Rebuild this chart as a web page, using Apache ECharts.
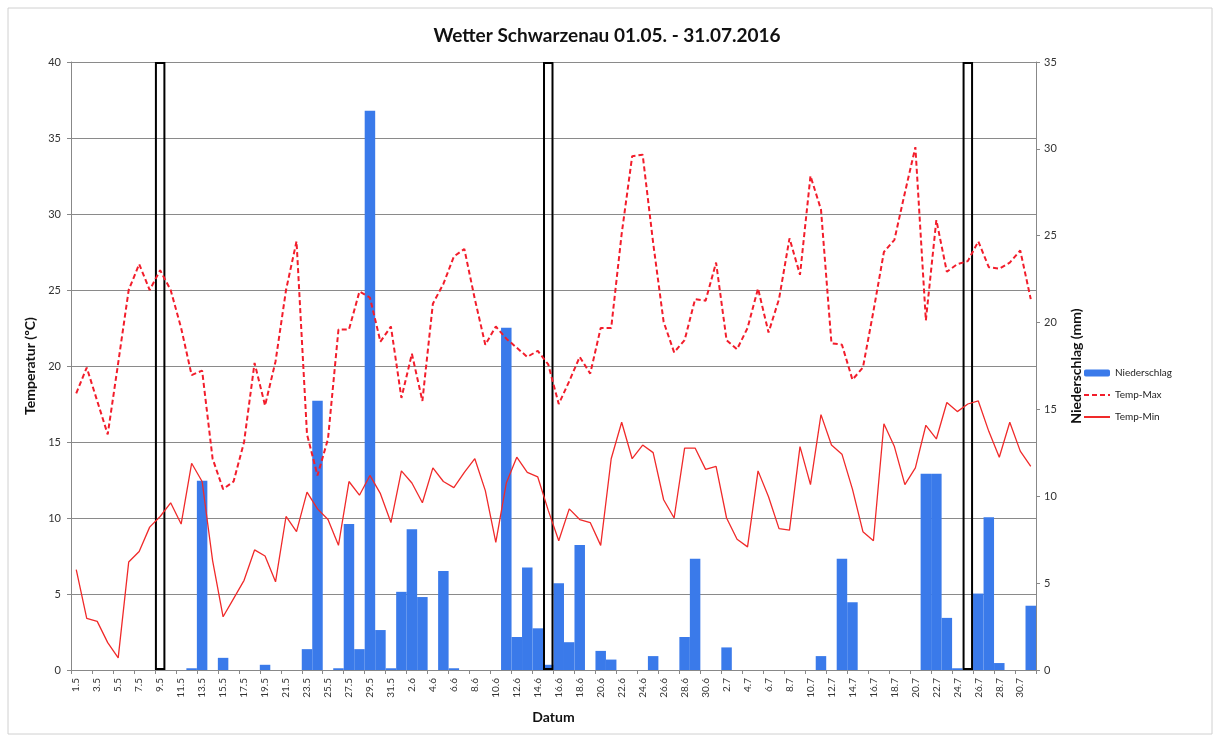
<!DOCTYPE html>
<html>
<head>
<meta charset="utf-8">
<title>Wetter Schwarzenau</title>
<script src="https://cdn.jsdelivr.net/npm/echarts@6/dist/echarts.min.js"></script>
<style>
  html, body { margin: 0; padding: 0; background: #fff; }
  #wetter { width: 1214px; height: 735px; }
</style>
</head>
<body>
<div id="wetter"></div>
<script>
var days = ['1.5','2.5','3.5','4.5','5.5','6.5','7.5','8.5','9.5','10.5','11.5','12.5','13.5','14.5','15.5','16.5','17.5','18.5','19.5','20.5','21.5','22.5','23.5','24.5','25.5','26.5','27.5','28.5','29.5','30.5','31.5',
  '1.6','2.6','3.6','4.6','5.6','6.6','7.6','8.6','9.6','10.6','11.6','12.6','13.6','14.6','15.6','16.6','17.6','18.6','19.6','20.6','21.6','22.6','23.6','24.6','25.6','26.6','27.6','28.6','29.6','30.6',
  '1.7','2.7','3.7','4.7','5.7','6.7','7.7','8.7','9.7','10.7','11.7','12.7','13.7','14.7','15.7','16.7','17.7','18.7','19.7','20.7','21.7','22.7','23.7','24.7','25.7','26.7','27.7','28.7','29.7','30.7','31.7'];

// Niederschlag in mm
var niederschlag = [0, 0, 0, 0, 0, 0, 0, 0, 0, 0, 0, 0.1, 10.9, 0, 0.7, 0, 0, 0, 0.3, 0, 0, 0, 1.2, 15.5, 0, 0.1, 8.4, 1.2, 32.2, 2.3, 0.1,
  4.5, 8.1, 4.2, 0, 5.7, 0.1, 0, 0, 0, 0, 19.7, 1.9, 5.9, 2.4, 0.3, 5.0, 1.6, 7.2, 0, 1.1, 0.6, 0, 0, 0, 0.8, 0, 0, 1.9, 6.4, 0,
  0, 1.3, 0, 0, 0, 0, 0, 0, 0, 0, 0.8, 0, 6.4, 3.9, 0, 0, 0, 0, 0, 0, 11.3, 11.3, 3.0, 0.1, 0, 4.4, 8.8, 0.4, 0, 0, 3.7];

var tempMax = [18.2, 19.9, 17.7, 15.5, 20.2, 25.0, 26.7, 25.0, 26.3, 25.0, 22.5, 19.4, 19.7, 13.9, 11.9, 12.4, 15.0, 20.2, 17.4, 20.3, 25.0, 28.2, 15.5, 12.8, 15.2, 22.4, 22.4, 24.9, 24.5, 21.6, 22.6,
  17.9, 20.8, 17.7, 24.1, 25.4, 27.2, 27.7, 24.4, 21.4, 22.6, 21.8, 21.2, 20.6, 21.0, 20.1, 17.5, 19.0, 20.6, 19.5, 22.5, 22.5, 28.7, 33.8, 33.9, 28.1, 22.9, 20.9, 21.7, 24.4, 24.3,
  26.8, 21.7, 21.1, 22.5, 25.1, 22.2, 24.4, 28.4, 26.0, 32.5, 30.3, 21.5, 21.4, 19.1, 19.9, 23.6, 27.5, 28.3, 31.4, 34.4, 23.0, 29.6, 26.2, 26.7, 26.9, 28.2, 26.5, 26.4, 26.8, 27.6, 24.4];

var tempMin = [6.6, 3.4, 3.2, 1.8, 0.8, 7.1, 7.8, 9.4, 10.1, 11.0, 9.6, 13.6, 12.4, 7.2, 3.5, 4.7, 5.9, 7.9, 7.5, 5.8, 10.1, 9.1, 11.7, 10.6, 9.9, 8.2, 12.4, 11.5, 12.8, 11.6, 9.7,
  13.1, 12.3, 11.0, 13.3, 12.4, 12.0, 13.0, 13.9, 11.8, 8.4, 12.3, 14.0, 13.0, 12.7, 10.5, 8.5, 10.6, 9.9, 9.7, 8.2, 13.9, 16.3, 13.9, 14.8, 14.3, 11.2, 10.0, 14.6, 14.6, 13.2,
  13.4, 10.0, 8.6, 8.1, 13.1, 11.4, 9.3, 9.2, 14.7, 12.2, 16.8, 14.8, 14.2, 11.9, 9.1, 8.5, 16.2, 14.7, 12.2, 13.3, 16.1, 15.2, 17.6, 17.0, 17.5, 17.7, 15.7, 14.0, 16.3, 14.4, 13.4];

// markierte Tage (schwarze Rahmen)
var markierteTage = ['9.5', '15.6', '25.7'];
var tempTicks = [0, 40, 5];
var regenTicks = [0, 35, 5];

var rahmen = days.map(function (d) {
  return markierteTage.indexOf(d) >= 0 ? tempTicks[1] : '-';
});

var chartDom = document.getElementById('wetter');
var myChart = echarts.init(chartDom);
var option;
var schrift = 'Lato, "Open Sans", sans-serif';

option = {
  backgroundColor: '#fff',
  animation: false,
  textStyle: { fontFamily: schrift },
  title: {
    text: 'Wetter Schwarzenau 01.05. - 31.07.2016',
    left: 'center',
    top: 21,
    textStyle: { fontSize: 19, fontWeight: 'bold', color: '#111', fontFamily: schrift }
  },
  graphic: [{
    type: 'rect',
    shape: { x: 8, y: 8, width: 1204, height: 726 },
    style: { fill: 'none', stroke: '#d0d0d0', lineWidth: 1 },
    silent: true
  }],
  legend: {
    orient: 'vertical',
    left: 1078,
    top: 363,
    itemGap: 12,
    itemWidth: 26,
    itemHeight: 7,
    textStyle: { fontSize: 10, color: '#222', fontFamily: schrift },
    data: [
      { name: 'Niederschlag' },
      { name: 'Temp-Max', itemStyle: { opacity: 0 } },
      { name: 'Temp-Min', itemStyle: { opacity: 0 } }
    ]
  },
  grid: {
    left: 71,
    right: 178,
    top: 62,
    bottom: 65
  },
  xAxis: {
    type: 'category',
    data: days,
    name: 'Datum',
    nameLocation: 'middle',
    nameGap: 40,
    nameTextStyle: { fontSize: 14, fontWeight: 'bold', color: '#111' },
    axisLine: { lineStyle: { color: '#888' } },
    axisTick: { show: true, interval: 1, length: 4, lineStyle: { color: '#888' } },
    axisLabel: { interval: 1, rotate: 90, fontSize: 10, color: '#333' },
    splitLine: { show: false }
  },
  yAxis: [
    {
      type: 'value',
      name: 'Temperatur (ºC)',
      nameLocation: 'middle',
      nameGap: 25,
      nameTextStyle: { fontSize: 14, fontWeight: 'bold', color: '#111' },
      min: tempTicks[0],
      max: tempTicks[1],
      interval: tempTicks[2],
      axisLine: { show: true, lineStyle: { color: '#888' } },
      axisTick: { show: true, length: 4, lineStyle: { color: '#888' } },
      axisLabel: { fontSize: 11, color: '#333', margin: 10 },
      splitLine: { lineStyle: { color: '#8a8a8a', width: 1 } }
    },
    {
      type: 'value',
      name: 'Niederschlag (mm)',
      nameLocation: 'middle',
      nameGap: 33,
      nameRotate: 90,
      nameTextStyle: { fontSize: 14, fontWeight: 'bold', color: '#111' },
      min: regenTicks[0],
      max: regenTicks[1],
      interval: regenTicks[2],
      position: 'right',
      axisLine: { show: true, lineStyle: { color: '#888' } },
      axisTick: { show: true, length: 4, lineStyle: { color: '#888' } },
      axisLabel: { fontSize: 11, color: '#333', margin: 8 },
      splitLine: { show: false }
    }
  ],
  series: [
    {
      name: 'Niederschlag',
      type: 'bar',
      yAxisIndex: 1,
      barCategoryGap: '0%',
      barGap: '-100%',
      itemStyle: { color: '#3a7aea' },
      z: 2,
      data: niederschlag
    },
    {
      name: 'Rahmen',
      type: 'bar',
      yAxisIndex: 0,
      barCategoryGap: '0%',
      barGap: '-100%',
      itemStyle: { color: 'rgba(0,0,0,0)', borderColor: '#000', borderWidth: 2 },
      z: 3,
      silent: true,
      data: rahmen
    },
    {
      name: 'Temp-Max',
      type: 'line',
      yAxisIndex: 0,
      symbol: 'none',
      itemStyle: { color: '#f21d2b' },
      lineStyle: { color: '#f21d2b', width: 2, type: [5, 3] },
      z: 4,
      data: tempMax
    },
    {
      name: 'Temp-Min',
      type: 'line',
      yAxisIndex: 0,
      symbol: 'none',
      itemStyle: { color: '#f02a2a' },
      lineStyle: { color: '#f02a2a', width: 1.3 },
      z: 4,
      data: tempMin
    }
  ]
};

option && myChart.setOption(option);
</script>
</body>
</html>
